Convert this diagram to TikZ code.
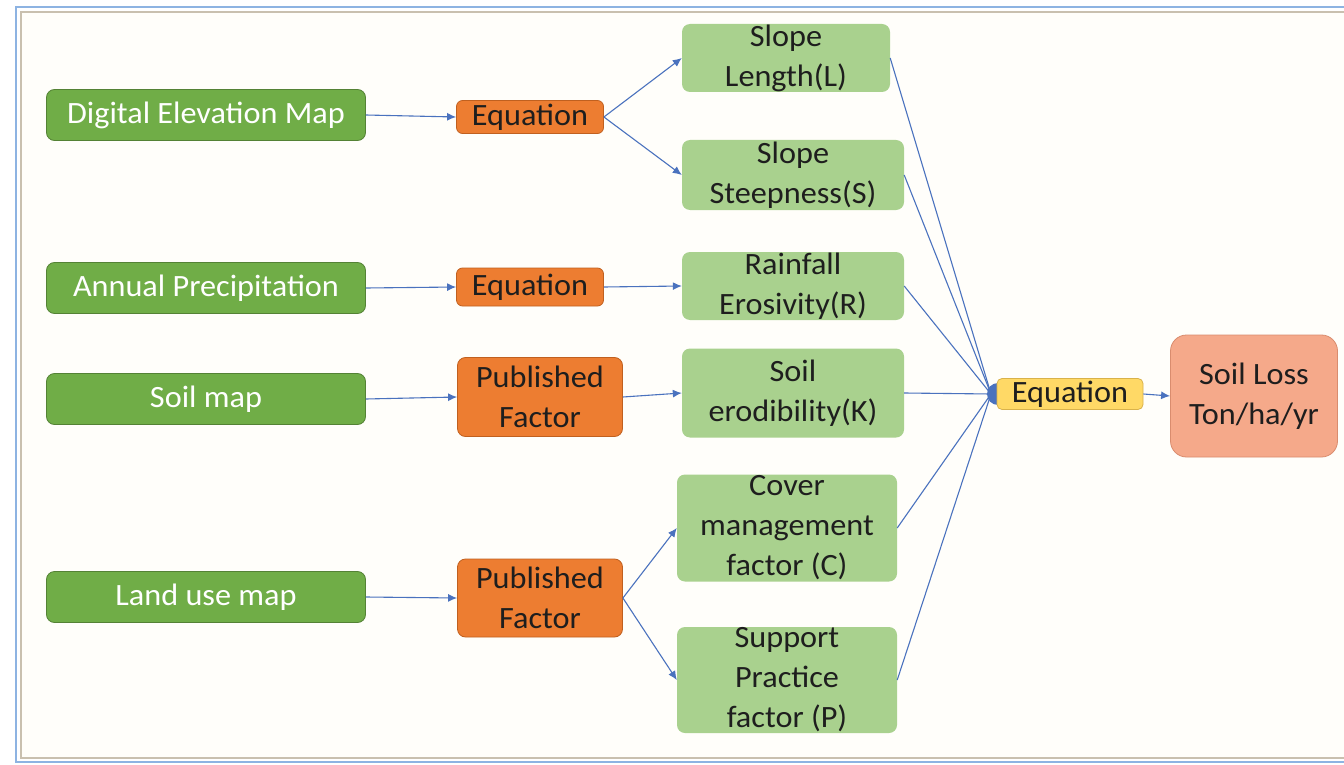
\documentclass[tikz,border=0pt]{standalone}
\usepackage{fontspec}
\setmainfont{Carlito}[FakeStretch=1.04]
\usetikzlibrary{arrows.meta}
\definecolor{dgfill}{HTML}{70AD47}
\definecolor{dgline}{HTML}{548235}
\definecolor{orfill}{HTML}{ED7D31}
\definecolor{orline}{HTML}{C0601F}
\definecolor{lgfill}{HTML}{A9D18E}
\definecolor{yefill}{HTML}{FFD966}
\definecolor{yeline}{HTML}{D9B24A}
\definecolor{slfill}{HTML}{F5A98A}
\definecolor{slline}{HTML}{D98C6E}
\definecolor{arr}{HTML}{4A72BE}
\definecolor{frameblue}{HTML}{8DB3E2}
\definecolor{framebeige}{HTML}{C9C0AF}
\definecolor{cream}{HTML}{FFFEFA}
\definecolor{txt}{HTML}{1E1E1E}
\tikzset{
  base/.style={rounded corners=8pt, inner sep=0pt, align=center,
    font=\fontsize{31}{40}\selectfont},
  srcbox/.style={base, fill=dgfill, draw=dgline, line width=0.8pt, text=white,
    minimum width=319pt, minimum height=51pt},
  procbox/.style={base, fill=orfill, draw=orline, line width=0.8pt, text=txt},
  facbox/.style={base, fill=lgfill, text=txt},
  eqbox/.style={base, fill=yefill, draw=yeline, line width=0.8pt, text=txt,
    minimum width=146pt, minimum height=31pt, rounded corners=5pt},
  resbox/.style={base, fill=slfill, draw=slline, line width=0.8pt, text=txt,
    minimum width=167pt, minimum height=122pt, rounded corners=16pt},
  conn/.style={draw=arr, line width=1.1pt, -{Latex[length=9pt,width=8pt]}},
  feed/.style={draw=arr, line width=1.1pt}
}
\begin{document}
\begin{tikzpicture}[x=1pt,y=-1pt]
\useasboundingbox (0,0) rectangle (1344,765);
\fill[white] (0,0) rectangle (1344,765);
\fill[cream] (21,12) rectangle (1344,758);
\draw[frameblue, line width=2pt] (1344,7) -- (16,7) -- (16,762) -- (1344,762);
\draw[framebeige, line width=1.5pt] (1344,12) -- (21,12) -- (21,758) -- (1344,758);

% sources
\node[srcbox] (dem) at (206,115) {Digital Elevation Map};
\node[srcbox] (ap)  at (206,288) {Annual Precipitation};
\node[srcbox] (sm)  at (206,399) {Soil map};
\node[srcbox] (lu)  at (206,597) {Land use map};

% processes
\node[procbox, minimum width=147pt, minimum height=33pt, rounded corners=6pt] (eq1) at (530,117) {Equation};
\node[procbox, minimum width=147pt, minimum height=38pt, rounded corners=6pt] (eq2) at (530,287) {Equation};
\node[procbox, minimum width=165pt, minimum height=79pt] (pf1) at (540,397) {Published\\Factor};
\node[procbox, minimum width=165pt, minimum height=78pt] (pf2) at (540,598) {Published\\Factor};

% factors
\node[facbox, minimum width=208pt, minimum height=68pt] (sl) at (786,58) {Slope\\Length(L)};
\node[facbox, minimum width=222pt, minimum height=70pt] (ss) at (793,175) {Slope\\Steepness(S)};
\node[facbox, minimum width=222pt, minimum height=68pt] (rf) at (793,286) {Rainfall\\Erosivity(R)};
\node[facbox, minimum width=222pt, minimum height=89pt] (ke) at (793,393) {Soil\\erodibility(K)};
\node[facbox, minimum width=220pt, minimum height=107pt] (cm) at (787,528) {Cover\\management\\factor (C)};
\node[facbox, minimum width=220pt, minimum height=106pt] (sp) at (787,680) {Support\\Practice\\factor (P)};

% final
\coordinate (cv) at (991,394);
\fill[arr] (998,394) circle (11pt);
\node[eqbox] (eq3) at (1070,394) {Equation};
\node[resbox] (loss) at (1254,396) {Soil Loss\\Ton/ha/yr};

% connectors
\path[conn] (dem.east) -- (eq1.west);
\path[conn] (ap.east) -- (eq2.west);
\path[conn] (sm.east) -- (pf1.west);
\path[conn] (lu.east) -- (pf2.west);
\path[conn] (eq1.east) -- (sl.west);
\path[conn] (eq1.east) -- (ss.west);
\path[conn] (eq2.east) -- (rf.west);
\path[conn] (pf1.east) -- (ke.west);
\path[conn] (pf2.east) -- (cm.west);
\path[conn] (pf2.east) -- (sp.west);
\path[feed] (sl.east) -- (cv);
\path[feed] (ss.east) -- (cv);
\path[feed] (rf.east) -- (cv);
\path[feed] (ke.east) -- (cv);
\path[feed] (cm.east) -- (cv);
\path[feed] (sp.east) -- (cv);
\path[conn] (eq3.east) -- (loss.west);
\end{tikzpicture}
\end{document}
